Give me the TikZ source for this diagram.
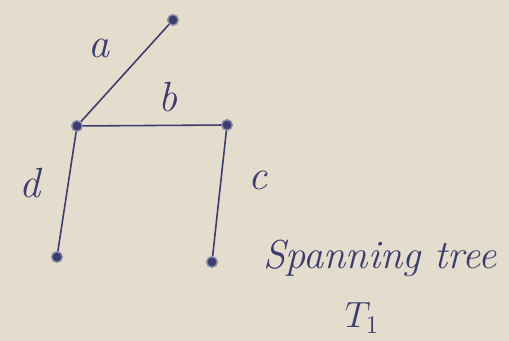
\documentclass[tikz,border=0pt]{standalone}
\usepackage{xcolor}
\usepackage{tikz}
\usetikzlibrary{positioning}
\definecolor{treepaper}{HTML}{E4DDCD}
\definecolor{treeink}{HTML}{3B3D6E}

\tikzset{
  vtx/.style={circle, fill=treeink, draw=treeink!60, line width=0.8pt, inner sep=0pt, minimum size=6pt},
  edg/.style={treeink, line width=0.9pt},
  lbl/.style={font=\fontsize{24}{28}\selectfont\itshape, text=treeink}
}

\begin{document}
\begin{tikzpicture}[x=1cm,y=1cm]
  \fill[treepaper] (0,0) rectangle (10.18,6.82);
  \useasboundingbox (0,0) rectangle (10.18,6.82);

  \node[vtx] (top) at (3.46,6.42) {};
  \node[vtx] (left) at (1.54,4.30) {};
  \node[vtx] (right) at (4.54,4.32) {};
  \node[vtx] (botleft) at (1.14,1.68) {};
  \node[vtx] (botright) at (4.24,1.58) {};

  \draw[edg] (left) -- (top);
  \draw[edg] (left) -- (right);
  \draw[edg] (left) -- (botleft);
  \draw[edg] (right) -- (botright);

  \node[lbl] (la) at (1.98,5.86) {a};
  \node[lbl] (lb) at (3.36,4.88) {b};
  \node[lbl] (ld) at (0.60,3.16) {d};
  \node[lbl] (lc) at (5.16,3.22) {c};

  \node[font=\fontsize{23}{28}\selectfont\itshape, text=treeink] (caption) at (7.6,1.66) {Spanning tree};
  \node[font=\fontsize{22}{26}\selectfont, text=treeink] (tname) at (7.24,0.46) {$T_1$};
\end{tikzpicture}
\end{document}
